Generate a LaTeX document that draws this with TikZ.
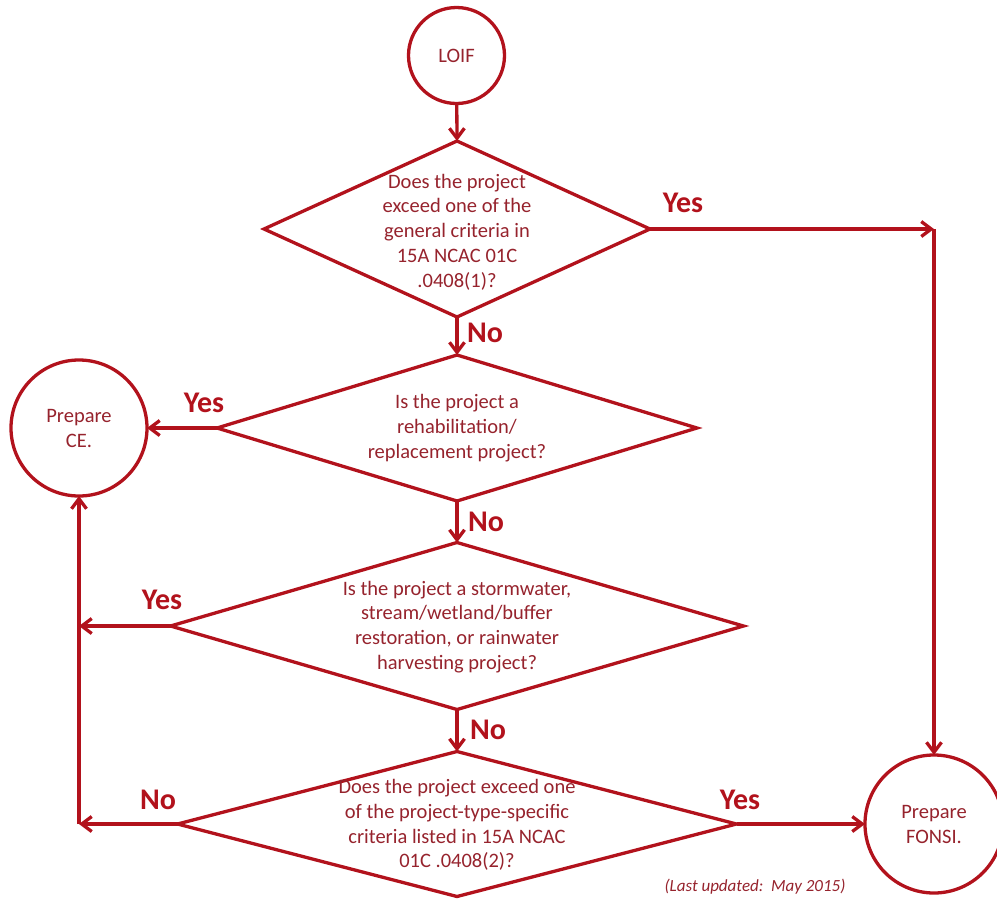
\documentclass[tikz,border=0pt]{standalone}
\usepackage{fontspec}
\setmainfont{Carlito}
\usetikzlibrary{arrows.meta,shapes.geometric}
\definecolor{ln}{RGB}{178,18,28}
\definecolor{tx}{RGB}{150,35,45}
\begin{document}
\begin{tikzpicture}[x=1pt,y=-1pt,
  line width=3.3pt,
  every node/.style={inner sep=0pt, outer sep=0pt},
  circ/.style={circle, draw=ln, line width=3.3pt, font=\fontsize{20.5}{25}\selectfont, text=tx, align=center},
  dia/.style={diamond, draw=ln, line width=3.3pt, inner sep=0pt},
  qtext/.style={inner sep=1pt, font=\fontsize{20.5}{24.8}\selectfont, text=tx, align=center},
  lab/.style={font=\fontsize{30}{30}\selectfont\bfseries, text=ln},
  arr/.style={draw=ln, line width=3.3pt, -{Straight Barb[length=10pt,width=15pt]}}
]
\useasboundingbox (0,0) rectangle (997,903);

% terminals
\node[circ, minimum size=96pt] (loif) at (456.5,55.5) {LOIF};
\node[circ, minimum size=136pt] (ce) at (79,428) {Prepare\\CE.};
\node[circ, minimum size=138pt] (fonsi) at (934,824) {Prepare\\FONSI.};

% decisions
\node[dia, minimum width=386pt, minimum height=176pt] (d1) at (457,229) {};
\node[dia, minimum width=480pt, minimum height=146pt] (d2) at (457,428) {};
\node[dia, minimum width=573pt, minimum height=167pt] (d3) at (457,626) {};
\node[dia, minimum width=559pt, minimum height=145pt] (d4) at (457,824) {};

\node[qtext] (d1t) at (457,232) {Does the project\\exceed one of the\\general criteria in\\15A NCAC 01C\\.0408(1)?};
\node[qtext] (d2t) at (457,428) {Is the project a\\rehabilitation/\\replacement project?};
\node[qtext] (d3t) at (457,627) {Is the project a stormwater,\\stream/wetland/buffer\\restoration, or rainwater\\harvesting project?};
\node[qtext] (d4t) at (457,825) {Does the project exceed one\\of the project-type-specific\\criteria listed in 15A NCAC\\01C .0408(2)?};

% corner coordinates
\coordinate (c1) at (934,229);
\coordinate (c3) at (79,626);
\coordinate (c4) at (79,824);

% connectors
\draw[arr] (loif) -- (d1.north);
\draw[arr] (d1.south) -- (d2.north);
\draw[arr] (d2.south) -- (d3.north);
\draw[arr] (d3.south) -- (d4.north);
\draw[arr] (d1.east) -- (c1);
\draw[arr] (c1) -- (fonsi.north);
\draw[arr] (d2.west) -- (ce.east);
\draw[arr] (d3.west) -- (c3);
\draw[arr] (d4.west) -- (c4);
\draw[arr] (c4) -- (ce.south);
\draw[arr] (d4.east) -- (fonsi.west);

% labels
\node[lab] (y1) at (683,203) {Yes};
\node[lab] (n1) at (485,333) {No};
\node[lab] (y2) at (204,403) {Yes};
\node[lab] (n2) at (486,522) {No};
\node[lab] (y3) at (162,600) {Yes};
\node[lab] (n3) at (488,730) {No};
\node[lab] (n4) at (158,800) {No};
\node[lab] (y4) at (740,800) {Yes};

\node[font=\fontsize{17}{20}\selectfont\itshape, text=tx] (upd) at (755,887) {(Last updated:\ \ May 2015)};
\end{tikzpicture}
\end{document}
